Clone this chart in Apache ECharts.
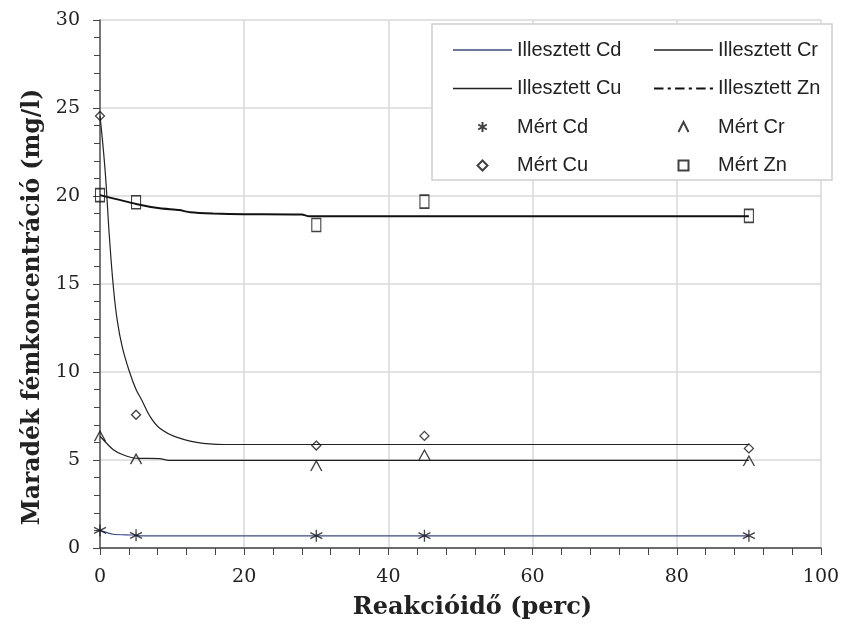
<!DOCTYPE html>
<html>
<head>
<meta charset="utf-8">
<script src="https://cdn.jsdelivr.net/npm/echarts@6/dist/echarts.min.js"></script>
<style>
  html, body { margin: 0; padding: 0; background: #fff; }
  #chart { width: 861px; height: 639px; }
</style>
</head>
<body>
<div id="chart"></div>
<script>
// mért pontok (perc)
const timeMeasured = [0, 5, 30, 45, 90];
const measuredCd = [1.0, 0.72, 0.7, 0.7, 0.7];
const measuredCr = [6.35, 5.05, 4.66, 5.28, 4.94];
const measuredCu = [24.55, 7.57, 5.82, 6.37, 5.66];
const measuredZn = [20.05, 19.64, 18.35, 19.68, 18.87];

// illesztett görbék
const fitCdX = [0, 1.8, 4.6, 5.5, 90];
const fitCdY = [1.0, 0.78, 0.74, 0.69, 0.69];
const fitCrX = [0, 1.8, 3.2, 5, 8.3, 9.5, 90];
const fitCrY = [6.35, 5.6, 5.3, 5.1, 5.08, 4.98, 4.98];
const fitCuX = [0, 0.7, 1.3, 1.85, 2.4, 3.1, 4.1, 5.0, 5.8, 6.9, 8.3, 10.6, 14.3, 18.5, 90];
const fitCuY = [24.55, 21.5, 17.7, 14.85, 12.9, 11.4, 10.0, 9.0, 8.4, 7.5, 6.8, 6.3, 5.95, 5.88, 5.88];
const fitZnX = [0, 5, 8.3, 11, 12.5, 15.7, 20, 28, 29, 90];
const fitZnY = [20.05, 19.55, 19.3, 19.2, 19.07, 19.0, 18.97, 18.95, 18.85, 18.85];

const xTicks = [0, 20, 40, 60, 80, 100];
const yTicks = [0, 5, 10, 15, 20, 25, 30];

const zip = (xs, ys) => xs.map((x, i) => [x, ys[i]]);

const serif = "DejaVu Serif";
const sans = "Liberation Sans";

// jelölők
const starPath = "path://M5,0L5,10M0.7,2.5L9.3,7.5M0.7,7.5L9.3,2.5";
const caretPath = "path://M0,10L5,0L10,10";
const diamondPath = "path://M5,0L10,5L5,10L0,5Z";
const boxPath = "path://M0,0L10,0L10,10L0,10Z";
// jelmagyarázat vonal-ikonjai (vékony téglalapok)
const solidIcon = "path://M0,0L59,0L59,1.5L0,1.5Z";
const dashDotIcon =
  "path://M0,0L9,0L9,2L0,2Z M13,0L16,0L16,2L13,2Z M20,0L29,0L29,2L20,2Z " +
  "M33,0L36,0L36,2L33,2Z M40,0L49,0L49,2L40,2Z M53,0L56,0L56,2L53,2Z";

const markerStyle = { color: "transparent", borderColor: "#111", borderWidth: 1.3 };

const chart = echarts.init(document.getElementById("chart"));

const legendText = { fontFamily: sans, fontSize: 20, lineHeight: 20, color: "#222" };

const option = {
  animation: false,
  backgroundColor: "#fff",
  grid: { left: 100, right: 40, top: 20, bottom: 91 },
  graphic: [
    {
      type: "rect",
      z: 3,
      shape: { x: 432, y: 24, width: 400, height: 156 },
      style: { fill: "#fff", stroke: "#cfcfcf", lineWidth: 1.5 },
    },
  ],
  legend: [
    {
      left: 448,
      top: 35,
      orient: "vertical",
      itemWidth: 59,
      itemHeight: 10,
      itemGap: 18.5,
      z: 5,
      textStyle: legendText,
      data: [
        { name: "Illesztett Cd", icon: solidIcon },
        { name: "Illesztett Cu", icon: solidIcon },
        "Mért Cd",
        "Mért Cu",
      ],
    },
    {
      left: 649,
      top: 35,
      orient: "vertical",
      itemWidth: 59,
      itemHeight: 10,
      itemGap: 18.5,
      z: 5,
      textStyle: legendText,
      data: [
        { name: "Illesztett Cr", icon: solidIcon },
        { name: "Illesztett Zn", icon: dashDotIcon },
        "Mért Cr",
        "Mért Zn",
      ],
    },
  ],
  xAxis: {
    type: "value",
    min: xTicks[0],
    max: xTicks[xTicks.length - 1],
    interval: 20,
    name: "Reakcióidő (perc)",
    nameLocation: "middle",
    nameGap: 48,
    nameTextStyle: {
      fontFamily: serif, fontSize: 24, fontWeight: "bold", color: "#222",
      padding: [0, 0, 0, 24],
    },
    axisLine: { lineStyle: { color: "#444", width: 1.5 } },
    axisTick: { show: true, length: 7, lineStyle: { color: "#444" } },
    minorTick: { show: true, splitNumber: 5, length: 7, lineStyle: { color: "#444" } },
    axisLabel: { margin: 20, fontFamily: serif, fontSize: 19, color: "#222" },
    splitLine: { show: true, lineStyle: { color: "#d9d9d9", width: 1.5 } },
  },
  yAxis: {
    type: "value",
    min: yTicks[0],
    max: yTicks[yTicks.length - 1],
    interval: 5,
    name: "Maradék fémkoncentráció (mg/l)",
    nameLocation: "middle",
    nameGap: 55,
    nameTextStyle: {
      fontFamily: serif, fontSize: 23.5, fontWeight: "bold", color: "#222",
      padding: [0, 46, 0, 0],
    },
    axisLine: { show: true, lineStyle: { color: "#555", width: 1.5 } },
    axisTick: { show: true, length: 7, lineStyle: { color: "#444" } },
    minorTick: { show: true, splitNumber: 5, length: 6, lineStyle: { color: "#444" } },
    axisLabel: { margin: 20, fontFamily: serif, fontSize: 19, color: "#222" },
    splitLine: { show: true, lineStyle: { color: "#d9d9d9", width: 1.5 } },
  },
  series: [
    {
      name: "Illesztett Cd",
      type: "line",
      symbol: "none",
      smooth: 0.2,
      lineStyle: { color: "#3646a6", width: 1.2 },
      itemStyle: { color: "#3646a6" },
      data: zip(fitCdX, fitCdY),
    },
    {
      name: "Illesztett Cr",
      type: "line",
      symbol: "none",
      smooth: 0.2,
      lineStyle: { color: "#222", width: 1.2 },
      itemStyle: { color: "#222" },
      data: zip(fitCrX, fitCrY),
    },
    {
      name: "Illesztett Cu",
      type: "line",
      symbol: "none",
      smooth: 0.4,
      lineStyle: { color: "#222", width: 1.2 },
      itemStyle: { color: "#222" },
      data: zip(fitCuX, fitCuY),
    },
    {
      name: "Illesztett Zn",
      type: "line",
      symbol: "none",
      smooth: 0.2,
      lineStyle: { color: "#111", width: 2 },
      itemStyle: { color: "#111" },
      data: zip(fitZnX, fitZnY),
    },
    {
      name: "Mért Cd",
      type: "scatter",
      symbol: starPath,
      symbolSize: 12,
      itemStyle: markerStyle,
      z: 4,
      data: zip(timeMeasured, measuredCd),
    },
    {
      name: "Mért Cr",
      type: "scatter",
      symbol: caretPath,
      symbolSize: [11, 10],
      itemStyle: markerStyle,
      z: 4,
      data: zip(timeMeasured, measuredCr),
    },
    {
      name: "Mért Cu",
      type: "scatter",
      symbol: diamondPath,
      symbolSize: 9,
      itemStyle: markerStyle,
      z: 4,
      data: zip(timeMeasured, measuredCu),
    },
    {
      name: "Mért Zn",
      type: "scatter",
      symbol: boxPath,
      symbolSize: [9, 13],
      itemStyle: markerStyle,
      z: 4,
      data: zip(timeMeasured, measuredZn),
    },
  ],
};

chart.setOption(option);
</script>
</body>
</html>
